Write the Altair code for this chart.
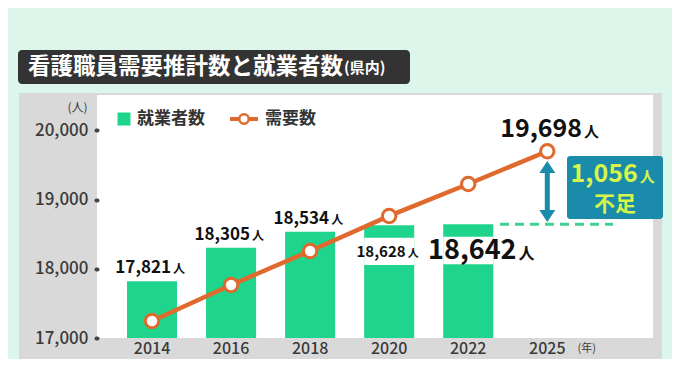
import altair as alt
import pandas as pd

# ---------------- data ----------------
years = ["2014", "2016", "2018", "2020", "2022", "2025"]
employed = [17821, 18305, 18534, 18628, 18642, None]
demand = [17246, 17766, 18257, 18763, 19225, 19698]
y_ticks = [17000, 18000, 19000, 20000]

title_main = "看護職員需要推計数と就業者数"
title_sub = "(県内)"
legend_employed = "就業者数"
legend_demand = "需要数"
unit = "人"
shortage_value = 1056
shortage_word = "不足"
y_unit = "(人)"
x_unit = "(年)"

df = pd.DataFrame({"year": years, "employed": employed, "demand": demand})

# ---------------- style ----------------
FONT = "Noto Sans CJK JP"
GREEN = "#1fd48c"
ORANGE = "#e0692d"
BLUE = "#1b8bab"
YELLOW = "#d8f54a"
BG = "#dcf6ec"
GRAY = "#d9d9d9"
TXT = "#111111"
AX = "#3a3a3a"

W, H = 556, 243
Y_MIN, Y_MAX = 17000, 20510

x_scale = alt.Scale(domain=years, paddingInner=0.367, paddingOuter=0.7, align=0.271)
y_scale = alt.Scale(domain=[Y_MIN, Y_MAX], nice=False, zero=False)

x_axis = alt.Axis(labelFontSize=16, labelColor=AX, labelFont=FONT, labelFontWeight=500,
                  ticks=False, domain=False, grid=False, labelAngle=0,
                  labelPadding=10, labelBaseline="middle",
                  titleX=480, titleY=10, titleAlign="left", titleBaseline="middle",
                  titleFontSize=11, titleFontWeight="normal", titleColor=AX, titleFont=FONT,
                  zindex=1)
y_axis = alt.Axis(values=y_ticks, labelExpr="format(datum.value, ',')", labelFontSize=17,
                  labelColor=AX, labelFont=FONT,
                  labelFontWeight=500, tickSize=1, tickWidth=4, tickCap="round", tickColor="#444444",
                  domain=False, grid=False, labelPadding=8,
                  titleAngle=0, titleX=-10, titleY=12, titleAlign="right", titleBaseline="middle",
                  titleFontSize=12, titleFontWeight="normal", titleColor=AX, titleFont=FONT,
                  zindex=1)

X = alt.X("year:N", scale=x_scale, axis=x_axis, title=x_unit)


def Y(field):
    return alt.Y(field, type="quantitative", scale=y_scale, axis=y_axis, title=y_unit)


one = alt.Data(values=[{"k": 1}])


def px_rect(x, x2, y, y2, color, **kw):
    return alt.Chart(one).mark_rect(color=color, **kw).encode(
        x=alt.value(x), x2=alt.value(x2), y=alt.value(y), y2=alt.value(y2))


def px_text(x, y, text, size, color, align="left", weight="bold", baseline="middle"):
    return alt.Chart(one).mark_text(text=text, font=FONT, fontSize=size, fontWeight=weight,
                                    color=color, align=align, baseline=baseline).encode(
        x=alt.value(x), y=alt.value(y))


def tw(s, size):
    w = 0
    for c in s:
        if c.isdigit():
            w += 0.56 * size
        elif c == ",":
            w += 0.26 * size
        else:
            w += size
    return w


def val_label(year, field, value, ns, ks, dx_c, dy_c):
    num = f"{value:,}"
    numw = tw(num, ns)
    total = numw + ks + 2
    right = dx_c - total / 2 + numw
    dy = dy_c + 0.36 * ns
    base = alt.Chart(df).transform_filter(f"datum.year == '{year}'")
    t1 = base.mark_text(font=FONT, fontSize=ns, fontWeight="bold", color=TXT, align="right",
                        baseline="alphabetic", dx=right, dy=dy).encode(
        x=X, y=Y(field), text=alt.Text(f"{field}:Q", format=","))
    t2 = base.mark_text(text=unit, font=FONT, fontSize=ks, fontWeight="bold", color=TXT,
                        align="left", baseline="alphabetic", dx=right + 2, dy=dy).encode(
        x=X, y=Y(field))
    return [t1, t2]


layers = []
# title box
layers.append(px_rect(-79, 313, -45, -11, "#333333", cornerRadius=4))
layers.append(px_text(-69, -28, title_main, 22.5, "white"))
layers.append(px_text(-69 + 14 * 22.5 + 1, -27, title_sub, 15, "white"))
# panels
layers.append(px_rect(-78, 565, -2, 280, GRAY))
layers.append(px_rect(0, W, 0, H, "white"))

# bars
layers.append(alt.Chart(df).transform_calculate(base=str(Y_MIN))
              .mark_bar(color=GREEN).encode(x=X, y=Y("employed"), y2="base:Q"))
# white label gaps on 2020 / 2022 bars
layers.append(alt.Chart(df).transform_filter("datum.year == '2020' || datum.year == '2022'")
              .transform_calculate(g1="datum.employed - 180", g2="datum.employed - 575")
              .mark_bar(color="white").encode(x=X, y=Y("g1"), y2="g2:Q"))

# dashed level of latest employed
layers.append(alt.Chart(df).transform_filter("datum.year == '2022'")
              .mark_rule(color="#3fd18f", strokeWidth=3, strokeDash=[9, 6])
              .encode(x=alt.value(403), x2=alt.value(516), y=Y("employed")))

# demand line + points
layers.append(alt.Chart(df).mark_line(color=ORANGE, strokeWidth=4.5).encode(x=X, y=Y("demand")))
layers.append(alt.Chart(df).mark_point(shape="circle", filled=True, fill="white", stroke=ORANGE,
                                       strokeWidth=3, size=180, opacity=1)
              .encode(x=X, y=Y("demand")))

# arrow between demand 2025 and employed 2022
top_v = demand[-1]
bot_v = employed[4]
arrow = alt.Chart(df).transform_filter("datum.year == '2025'").transform_calculate(
    a_top=f"{top_v} - 220", a_bot=f"{bot_v} + 120",
    h_top=f"{top_v} - 227", h_bot=f"{bot_v} + 120")
layers.append(arrow.mark_rule(color=BLUE, strokeWidth=5)
              .encode(x=X, y=Y("a_top"), y2="a_bot:Q"))
layers.append(arrow.mark_point(shape="M0,-0.75L1,0.75L-1,0.75Z", filled=True,
                               color=BLUE, size=256, opacity=1)
              .encode(x=X, y=Y("h_top")))
layers.append(arrow.mark_point(shape="M0,0.75L1,-0.75L-1,-0.75Z", filled=True,
                               color=BLUE, size=256, opacity=1)
              .encode(x=X, y=Y("h_bot")))

# shortage box
layers.append(px_rect(470, 566, 61, 124, BLUE, cornerRadius=3))
sv = f"{shortage_value:,}"
nw = tw(sv, 25)
tot = nw + 15 + 2
right = 518 - tot / 2 + nw
layers.append(px_text(right, 87, sv, 25, YELLOW, align="right", baseline="alphabetic"))
layers.append(px_text(right + 2, 87, unit, 15, YELLOW, align="left", baseline="alphabetic"))
layers.append(px_text(518, 110, shortage_word, 21, YELLOW, align="center"))

# value labels
layers += val_label("2014", "employed", employed[0], 17, 12, 0, -14)
layers += val_label("2016", "employed", employed[1], 17, 12, 0, -14)
layers += val_label("2018", "employed", employed[2], 17, 12, 0, -14)
layers += val_label("2020", "employed", employed[3], 15, 11, 0, 26)
layers += val_label("2022", "employed", employed[4], 27, 16, 16, 25)
layers += val_label("2025", "demand", demand[5], 25, 15, 5, -23)

# legend
layers.append(alt.Chart(one).mark_square(size=169, color=GREEN, opacity=1)
              .encode(x=alt.value(27), y=alt.value(24)))
layers.append(px_text(40, 24, legend_employed, 17, "#333333"))
layers.append(alt.Chart(one).mark_rule(color=ORANGE, strokeWidth=4)
              .encode(x=alt.value(133), x2=alt.value(161), y=alt.value(24)))
layers.append(alt.Chart(one).mark_point(shape="circle", filled=True, fill="white", stroke=ORANGE,
                                        strokeWidth=2.5, size=90, opacity=1)
              .encode(x=alt.value(147), y=alt.value(24)))
layers.append(px_text(168, 24, legend_demand, 17, "#333333"))

chart = alt.layer(*layers).properties(
    width=W, height=H, background=BG,
    padding={"left": 89, "top": 87, "right": 19, "bottom": 21},
    autosize=alt.AutoSizeParams(type="none"),
).configure(font=FONT).configure_view(stroke=None)

chart.save("out.html", embed_options={"renderer": "svg", "actions": False})
